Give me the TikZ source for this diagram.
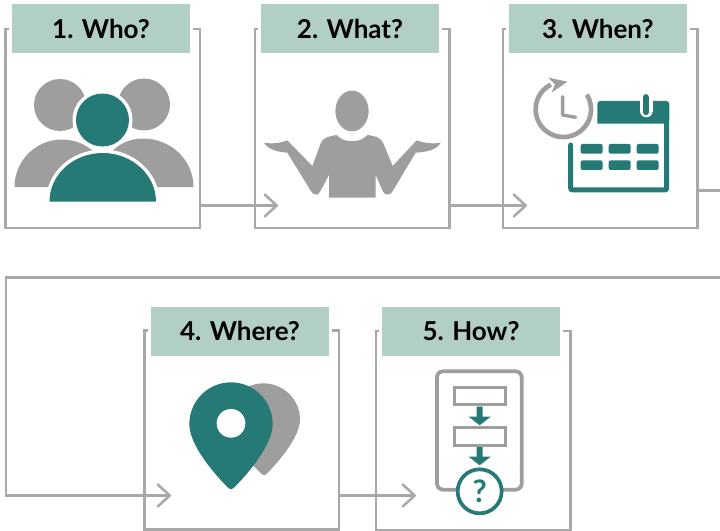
\documentclass[tikz,border=0pt]{standalone}
\usepackage{fontspec}
\setmainfont{Lato}
\usetikzlibrary{arrows.meta}
\definecolor{linegrey}{HTML}{A8A8A8}
\definecolor{icongrey}{HTML}{9D9E9D}
\definecolor{tealmain}{HTML}{267A76}
\definecolor{headgreen}{HTML}{B2CFC5}
\tikzset{
	framebox/.style={draw=linegrey, line width=2.5pt, minimum width=194.5pt, minimum height=199pt, outer sep=0pt},
	headbox/.style={fill=headgreen, preaction={draw=white, line width=6pt}, minimum width=178.5pt, minimum height=49pt, outer sep=0pt, font=\fontsize{26}{28}\selectfont\bfseries},
	greyfill/.style={fill=icongrey},
	tealfill/.style={fill=tealmain},
	cutfill/.style={fill=tealmain, preaction={draw=white, line width=7pt}}
}
\begin{document}
\begin{tikzpicture}[x=1pt, y=-1pt]
	\useasboundingbox (0,0) rectangle (720,530);
	\begin{scope}[every node/.style={framebox}]
		\node (who) at (102.75,128.5) {};
		\node (what) at (352,128.5) {};
		\node (when) at (600,128.5) {};
		\node (where) at (241.75,430) {};
		\node (how) at (473,430.5) {};
	\end{scope}
	\begin{scope}[every node/.style={headbox}]
		\node (whohead) at (101,28.5) {1. Who?};
		\node (whathead) at (350,28.5) {2. What?};
		\node (whenhead) at (597.75,28.5) {3. When?};
		\node (wherehead) at (240,331) {4. Where?};
		\node (howhead) at (471,331) {5. How?};
	\end{scope}
	\coordinate (in2) at (278,205.5);
	\coordinate (in3) at (527,205.5);
	\coordinate (in4) at (171,495.5);
	\coordinate (in5) at (416,495.5);
	\coordinate (out3) at (720,190.5);
	\coordinate (bendtop) at (720,277.5);
	\coordinate (bendleft) at (6,277.5);
	\coordinate (bendlow) at (6,495.5);
	\begin{scope}[>={Straight Barb[length=12pt, width=22pt, line width=2.5pt, round]},
	              every edge/.style={draw=linegrey, line width=2.5pt}]
		\path (in2 -| who.east) edge[->] (in2);
		\path (in3 -| what.east) edge[->] (in3);
		\path (in5 -| where.east) edge[->] (in5);
		\path (out3 -| when.east) edge (out3);
		\draw[draw=linegrey, line width=2.5pt, ->] (bendtop) -- (bendleft) -- (bendlow) -- (in4);
	\end{scope}
	% who
	\fill[greyfill] (60,105) circle (26);
	\fill[greyfill] (144,104.5) circle (26);
	\fill[greyfill] (14.5,187) .. controls (14.5,160.5) and (36,139.5) .. (62,139.5) .. controls (88,139.5) and (109.5,160.5) .. (109.5,187) -- cycle;
	\fill[greyfill] (98,187) .. controls (98,160) and (117,138.5) .. (143,138.5) .. controls (171,138.5) and (193.5,160) .. (193.5,187) -- cycle;
	\path[cutfill] (102.5,120) circle (26.5);
	\path[cutfill] (49.5,201.5) .. controls (49.5,175) and (73,153) .. (102.8,153) .. controls (132,153) and (156,175) .. (156,201.5) -- cycle;
	% what
	\begin{scope}[shift={(250,0)}, scale=1/3]
		\fill[greyfill] (306,333) ellipse (50 and 61);
		\fill[greyfill] (42,428) .. controls (65,432) and (90,430) .. (112,421) -- (187,498) -- (212,430) .. controls (218,412) and (240,408) .. (260,405)
			.. controls (280,430) and (332,430) .. (352,405) .. controls (375,408) and (392,412) .. (400,430) -- (428,498) -- (500,421)
			.. controls (525,430) and (550,432) .. (572,428) .. controls (560,450) and (530,456) .. (497,458) -- (430,570) .. controls (420,588) and (405,590) .. (397,570)
			-- (377,525) -- (377,593) -- (237,593) -- (237,525) -- (212,572) .. controls (205,588) and (190,588) .. (182,572)
			-- (112,458) .. controls (85,456) and (55,450) .. (42,428) -- cycle;
	\end{scope}
	% when
	\begin{scope}[shift={(250,0)}, scale=1/3]
		\draw[tealmain, line width=5pt, rounded corners=2pt, line cap=round] (962,435) -- (962,570) -- (1250,570) -- (1250,365);
		\fill[tealmain, rounded corners=3pt] (1042,371) -- (1042,303) [sharp corners] -- (1200,303) [rounded corners=3pt] -- (1258,303) -- (1258,371) [sharp corners] -- cycle;
		\fill[white] (1170,290) rectangle (1208,335);
		\fill[white] (1189,333) circle (19);
		\draw[tealmain, line width=6.5pt, line cap=round] (1188,292) -- (1188,336);
		\foreach \gx in {992,1076,1160}
			\foreach \gy in {432,481}
				\fill[tealmain, rounded corners=2pt] (\gx,\gy) rectangle ++(66,29);
		\draw[icongrey, line width=4.7pt] plot[domain=117:392, samples=70] ({940+83*cos(\x)}, {328-83*sin(\x)});
		\draw[icongrey, line width=3.4pt, line cap=round, line join=round] (938,290) -- (938,345) -- (977,352);
		\fill[greyfill] (895,233) -- (952,245) -- (905,278) -- (915,253) -- cycle;
	\end{scope}
	% where
	\begin{scope}[shift={(130,290)}, scale=1/3]
		\fill[greyfill] (290,388) .. controls (290,328) and (340,280) .. (400,280) .. controls (460,280) and (510,328) .. (510,388)
			.. controls (510,440) and (450,510) .. (410,552) .. controls (405,557) and (400,557) .. (395,552) .. controls (350,510) and (290,440) .. (290,388) -- cycle;
		\fill[tealfill] (178,402) .. controls (178,333) and (234,277) .. (303,277) .. controls (372,277) and (428,333) .. (428,402)
			.. controls (428,465) and (355,550) .. (311,594) .. controls (305,599) and (301,599) .. (295,594) .. controls (251,550) and (178,465) .. (178,402) -- cycle;
		\fill[white] (303,400) circle (43);
	\end{scope}
	% how
	\begin{scope}[shift={(370,300)}, scale=1/3]
		\draw[icongrey, line width=3.8pt, rounded corners=6pt] (201,214) rectangle (455,569);
		\draw[icongrey, line width=3pt] (252,261) rectangle (406,313);
		\draw[icongrey, line width=3pt] (252,383) rectangle (406,435);
		\fill[tealfill] (320,320) -- (338,320) -- (338,350) -- (362,350) -- (329,376) -- (296,350) -- (320,350) -- cycle;
		\fill[tealfill] (320,441) -- (338,441) -- (338,470) -- (362,470) -- (329,496) -- (296,470) -- (320,470) -- cycle;
		\node[circle, draw=tealmain, fill=white, line width=3.7pt, minimum size=44pt, inner sep=0pt, text=tealmain, font=\fontsize{31}{31}\selectfont\bfseries] (askmark) at (329,574) {?};
	\end{scope}
\end{tikzpicture}
\end{document}
